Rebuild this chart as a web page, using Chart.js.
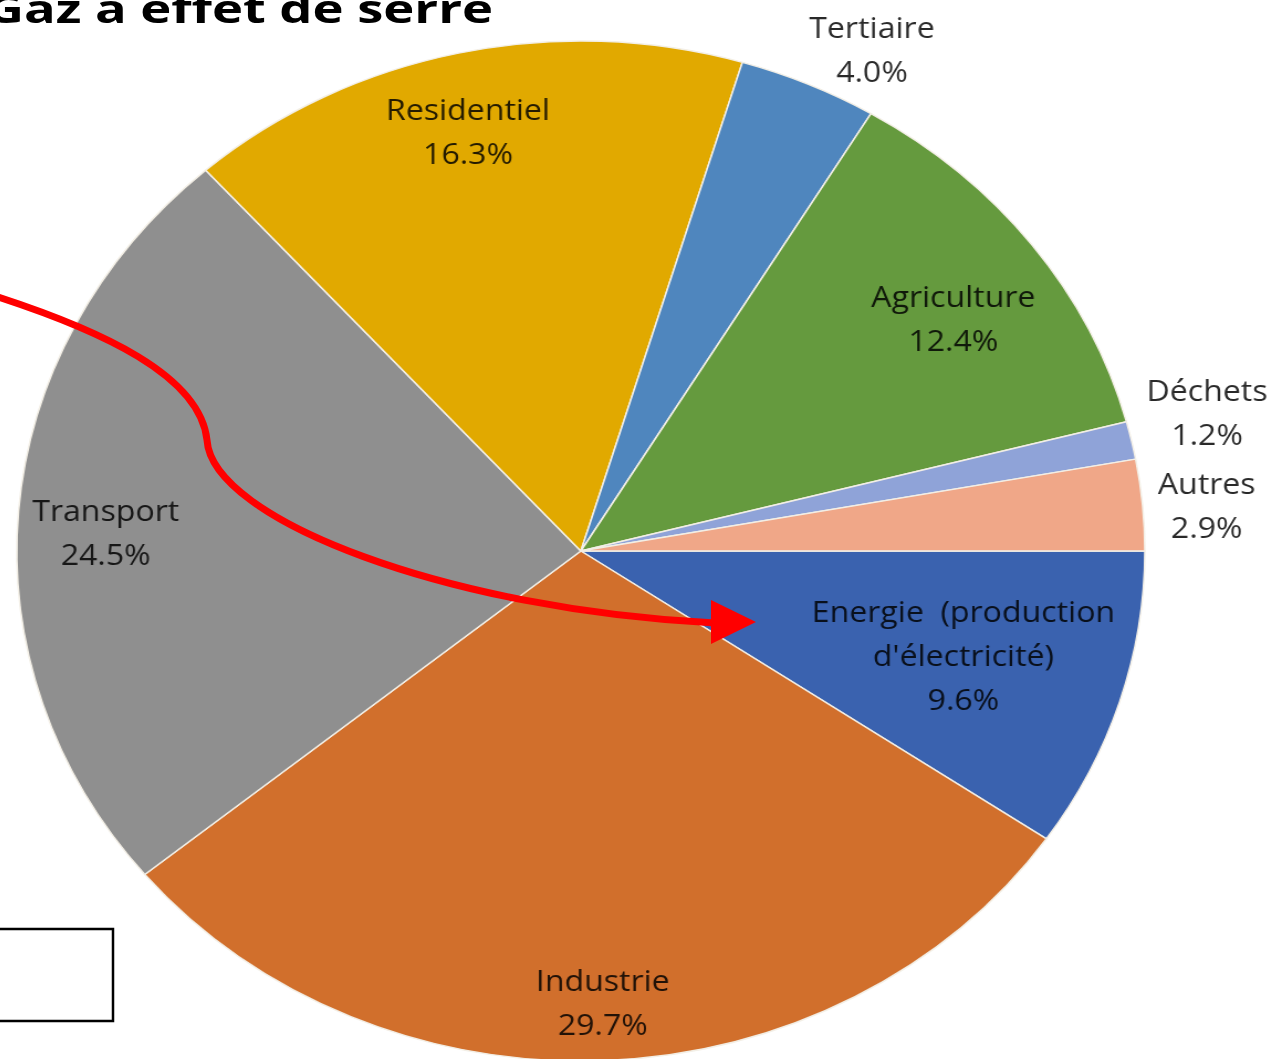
<!DOCTYPE html>
<html>
<head>
<meta charset="utf-8">
<script src="https://cdn.jsdelivr.net/npm/chart.js@4.4.0/dist/chart.umd.min.js"></script>
<style>
  html, body { margin: 0; padding: 0; background: #fff; overflow: hidden; width: 1276px; height: 1059px; }
  #wrap { position: absolute; left: -138px; top: 1px; transform-origin: 0 0; transform: scaleX(1.1059); }
  #over { position: absolute; left: 0; top: 0; pointer-events: none; }
</style>
</head>
<body>
<div id="wrap"><canvas id="myChart" width="1300" height="1100"></canvas></div>
<svg id="over" width="1276" height="1059">
  <text x="493" y="23" text-anchor="end" font-family="Open Sans" font-weight="700" font-size="40"
        textLength="507" lengthAdjust="spacingAndGlyphs" fill="#000">Gaz à effet de serre</text>
  <path d="M -5 296 C 100 330, 200 375, 207 440 C 212 520, 450 610, 715 623"
        fill="none" stroke="#ff0000" stroke-width="7"/>
  <polygon points="711,600 756,622 711,644" fill="#ff0000"/>
  <rect x="-10" y="929" width="123" height="92" fill="none" stroke="#000" stroke-width="2.5"/>
</svg>
<script>
// secteurs, dans le sens horaire à partir de 3 heures
var categories = [["Energie  (production", "d'électricité)"], 'Industrie', 'Transport', 'Residentiel',
                  'Tertiaire', 'Agriculture', 'Déchets', 'Autres'];
var valeurs = [9.6, 29.7, 24.5, 16.3, 4.0, 12.4, 1.2, 2.9];
var couleurs = ['#3A62AF', '#D16F2C', '#8F8F8F', '#E1A900', '#4F86BE', '#659A3E', '#8FA3D8', '#F0A788'];

// placement des étiquettes : distance relative au rayon, décalage d'angle (degrés)
var labelR = [0.71, 0.89, 0.843, 0.843, 1.107, 0.80, 1.142, 1.113];
var labelShift = [0, 0, -2.3, -1.2, 4, 2.5, -1, 0.8];

var etiquettes = {
    id: 'etiquettes',
    afterDatasetsDraw: function (chart) {
        var ctx = chart.ctx;
        var meta = chart.getDatasetMeta(0);
        ctx.save();
        ctx.font = '29px "Open Sans"';
        ctx.fillStyle = 'rgba(0, 0, 0, 0.84)';
        ctx.textAlign = 'center';
        ctx.textBaseline = 'middle';
        meta.data.forEach(function (arc, i) {
            var p = arc.getProps(['x', 'y', 'startAngle', 'endAngle', 'outerRadius'], true);
            var a = (p.startAngle + p.endAngle) / 2 + labelShift[i] * Math.PI / 180;
            var cx = p.x + Math.cos(a) * p.outerRadius * labelR[i];
            var cy = p.y + Math.sin(a) * p.outerRadius * labelR[i];
            var lignes = [].concat(categories[i]);
            lignes.push(valeurs[i].toFixed(1) + '%');
            var lh = 44;
            var y0 = cy - (lignes.length - 1) * lh / 2;
            lignes.forEach(function (t, k) {
                ctx.fillText(t, cx, y0 + k * lh);
            });
        });
        ctx.restore();
    }
};

var ctx = document.getElementById('myChart');
var myChart = new Chart(ctx, {
    type: 'pie',
    data: {
        labels: categories,
        datasets: [{
            data: valeurs,
            backgroundColor: couleurs,
            borderColor: '#f3efe6',
            borderWidth: 1.5,
            radius: 510
        }]
    },
    options: {
        responsive: false,
        animation: false,
        rotation: 90,
        layout: { padding: 0 },
        plugins: {
            legend: { display: false },
            tooltip: { enabled: false }
        }
    },
    plugins: [etiquettes]
});
</script>
</body>
</html>
